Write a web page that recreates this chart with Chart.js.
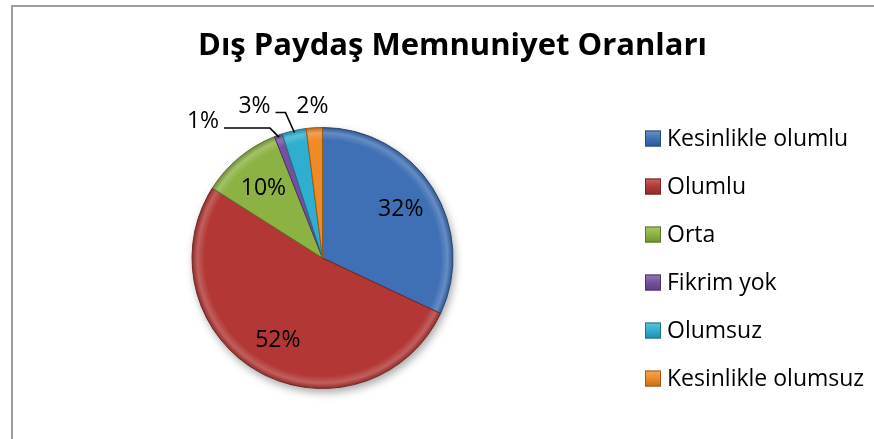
<!DOCTYPE html>
<html>
<head>
<meta charset="utf-8">
<script src="https://cdn.jsdelivr.net/npm/chart.js@4.4.1/dist/chart.umd.min.js"></script>
<style>
  html, body { margin: 0; padding: 0; background: #fff; overflow: hidden; }
  #wrap { position: relative; width: 874px; height: 439px; }
  #frame { position: absolute; left: 11px; top: 5px; width: 900px; height: 500px; border: 2px solid #9c9c9c; }
  #pie { position: absolute; left: 0; top: 0; }
</style>
</head>
<body>
<div id="wrap">
  <div id="frame"></div>
  <canvas id="pie" width="874" height="439"></canvas>
</div>
<script>
const TITLE = "Dış Paydaş Memnuniyet Oranları";
const categories = ["Kesinlikle olumlu", "Olumlu", "Orta", "Fikrim yok", "Olumsuz", "Kesinlikle olumsuz"];
const shares = [32, 52, 10, 1, 3, 2];
const sliceColors = ["#3f6fb5", "#b23735", "#8db244", "#74509e", "#2fafd0", "#ef8a26"];

// where the small slices put their label, relative to the slice rim
const calloutOffsets = { 3: [-76, -17], 4: [-40, -28], 5: [-2, -25] };

const FONT = "'Open Sans', Lato, sans-serif";

function shade(hex, amt) {
  const n = parseInt(hex.slice(1), 16);
  let r = n >> 16, g = (n >> 8) & 255, b = n & 255;
  const t = amt < 0 ? 0 : 255, p = Math.abs(amt);
  r = Math.round(r + (t - r) * p); g = Math.round(g + (t - g) * p); b = Math.round(b + (t - b) * p);
  return `rgb(${r},${g},${b})`;
}

function sliceFill(ctx) {
  const chart = ctx.chart, area = chart.chartArea;
  const base = sliceColors[ctx.dataIndex];
  if (!area) return base;
  const cx = (area.left + area.right) / 2, cy = (area.top + area.bottom) / 2;
  const r = Math.min(area.width, area.height) / 2;
  const g = chart.ctx.createRadialGradient(cx, cy, 0, cx, cy, r);
  g.addColorStop(0, base);
  g.addColorStop(0.9, base);
  g.addColorStop(0.955, shade(base, 0.2));
  g.addColorStop(1, shade(base, -0.25));
  return g;
}

const decorations = {
  id: "decorations",
  beforeDatasetsDraw(chart) {
    const arc = chart.getDatasetMeta(0).data[0];
    if (!arc) return;
    const c = chart.ctx;
    c.save();
    c.shadowColor = "rgba(0,0,0,0.35)";
    c.shadowBlur = 8;
    c.shadowOffsetX = 2;
    c.shadowOffsetY = 4;
    c.fillStyle = "#fff";
    c.beginPath();
    c.arc(arc.x, arc.y, arc.outerRadius, 0, Math.PI * 2);
    c.fill();
    c.restore();
  },
  afterDatasetsDraw(chart) {
    const c = chart.ctx;
    const arcs = chart.getDatasetMeta(0).data;
    c.save();
    c.font = `23px ${FONT}`;
    c.fillStyle = "#000";
    c.strokeStyle = "#000";
    c.lineWidth = 1.5;
    c.textAlign = "center";
    c.textBaseline = "alphabetic";
    arcs.forEach((arc, i) => {
      const text = shares[i] + "%";
      const mid = (arc.startAngle + arc.endAngle) / 2;
      if (!calloutOffsets[i]) {
        const d = arc.outerRadius * 0.71;
        c.fillText(text, arc.x + Math.cos(mid) * d, arc.y + Math.sin(mid) * d + 8);
        return;
      }
      const ex = arc.x + Math.cos(mid) * (arc.outerRadius - 2);
      const ey = arc.y + Math.sin(mid) * (arc.outerRadius - 2);
      const [ox, oy] = calloutOffsets[i];
      const tx = ex + ox, ty = ey + oy;
      c.fillText(text, tx, ty + 8);
      if (Math.hypot(ox, oy) > 30) {
        const w = c.measureText(text).width;
        c.beginPath();
        c.moveTo(tx + w / 2 + 5, ty + 8);
        c.lineTo(ex - 9, ty + 8);
        c.lineTo(ex, ey);
        c.stroke();
      }
    });
    c.restore();
  },
  afterDraw(chart) {
    const c = chart.ctx;
    c.save();
    c.fillStyle = "#000";
    c.textAlign = "center";
    c.textBaseline = "alphabetic";
    c.font = `bold 31px ${FONT}`;
    c.fillText(TITLE, 452.5, 55);

    // legend
    c.font = `23px ${FONT}`;
    c.textAlign = "left";
    categories.forEach((name, i) => {
      const y = 130.5 + i * 48;
      const col = sliceColors[i];
      const g = c.createLinearGradient(0, y, 0, y + 16);
      g.addColorStop(0, shade(col, 0.25));
      g.addColorStop(0.5, col);
      g.addColorStop(1, shade(col, -0.2));
      c.fillStyle = g;
      c.fillRect(645, y, 16, 16);
      c.strokeStyle = shade(col, -0.35);
      c.lineWidth = 1;
      c.strokeRect(645.5, y + 0.5, 15, 15);
      c.fillStyle = "#000";
      c.fillText(name, 667, y + 15.5);
    });
    c.restore();
  }
};

new Chart(document.getElementById("pie"), {
  type: "pie",
  data: {
    labels: categories,
    datasets: [{
      data: shares,
      backgroundColor: sliceFill,
      borderColor: sliceColors.map((col) => shade(col, -0.35)),
      borderWidth: 1
    }]
  },
  options: {
    responsive: false,
    animation: false,
    layout: { padding: { left: 191.5, right: 420.5, top: 127, bottom: 50 } },
    plugins: {
      legend: { display: false },
      title: { display: false },
      tooltip: { enabled: false }
    }
  },
  plugins: [decorations]
});
</script>
</body>
</html>
